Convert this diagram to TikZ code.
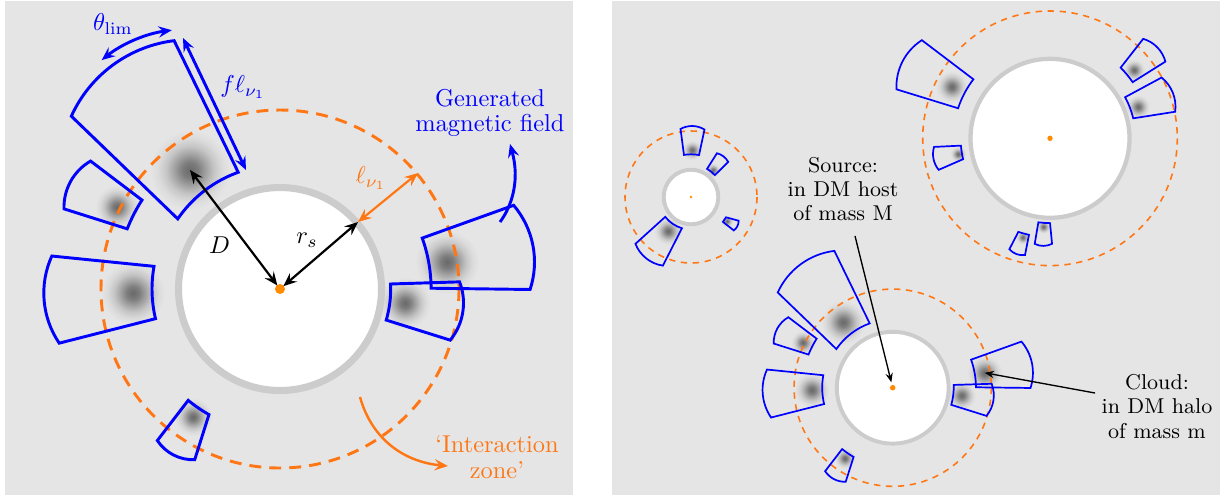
\documentclass[tikz,border=0pt]{standalone}
\usetikzlibrary{arrows.meta,calc}
\definecolor{panelbg}{RGB}{229,229,229}
\definecolor{ringgray}{RGB}{204,204,204}
\definecolor{zoneorange}{RGB}{255,119,20}
\definecolor{dotorange}{RGB}{255,140,0}
\definecolor{blA}{RGB}{105,105,105}
\definecolor{blB}{RGB}{125,125,125}
\definecolor{blC}{RGB}{163,163,163}
\definecolor{blD}{RGB}{198,198,198}
\definecolor{blE}{RGB}{219,219,219}
\pgfdeclareradialshading{blobshade}{\pgfpoint{0bp}{0bp}}{color(0bp)=(blA); color(5bp)=(blB); color(10bp)=(blC); color(15bp)=(blD); color(20bp)=(blE); color(25bp)=(panelbg); color(50bp)=(panelbg)}
% cloud region: style, inner angle 1, inner angle 2, inner radius (about the host centre = origin),
% cloud x, cloud y, outer angle 1, outer angle 2, outer radius (about the cloud)
\newcommand\cloudwedge[9]{\draw[#1] (#2:#4) arc[start angle=#2,end angle=#3,radius=#4] -- ($(#5,#6)+(#8:#9)$) arc[start angle=#8,end angle=#7,radius=#9] -- cycle;}
\newcommand\cloudblob[3]{\shade[shading=blobshade] (#1,#2) circle[radius=#3];}
\newcommand\leftclouds[1]{%
  \cloudwedge{#1}{-145.55}{-109.7}{124}{-90}{-119}{-155.6}{-97}{130.3}
  \cloudwedge{#1}{-158.5}{-147.2}{164.2}{-163}{-82}{178}{240.1}{53}
  \cloudwedge{#1}{166.6}{190.2}{128}{-147}{4}{145.8}{204.5}{89.2}
  \cloudwedge{#1}{119.5}{129.5}{144.3}{-87}{128}{87.7}{146.6}{42.7}
  \cloudwedge{#1}{-19.7}{-0.3}{151.1}{167}{-27}{-40.4}{18.3}{87.5}
  \cloudwedge{#1}{-2.6}{16.3}{110.7}{125}{14}{-21.2}{39.4}{58.5}}
\newcommand\leftblobs{%
  \cloudblob{-90}{-119}{40}
  \cloudblob{-163}{-82}{22}
  \cloudblob{-147}{4}{32}
  \cloudblob{-87}{128}{19}
  \cloudblob{167}{-27}{32}
  \cloudblob{125}{14}{26}}
\tikzset{
  bigtip/.tip={Stealth[length=5.5pt,width=4.6pt,inset=2pt]},
  smalltip/.tip={Stealth[length=3.8pt,width=3pt,inset=1.3pt]},
  ringstyle/.style={draw=ringgray,fill=white},
  zonestyle/.style={draw=zoneorange},
  lefttext/.style={font=\fontsize{10}{10.45}\selectfont,align=center,inner sep=0pt},
  righttext/.style={font=\fontsize{8.8}{9.9}\selectfont,align=center,inner sep=0pt},
  measarrow/.style={bigtip-bigtip,line width=0.9pt},
  thinarrow/.style={-smalltip,line width=0.55pt,black},
  bigwedge/.style={blue,line width=1.2pt},
  smallwedge/.style={blue,line width=0.7pt},
}
\begin{document}
\begin{tikzpicture}[x=0.41pt,y=-0.41pt]
\useasboundingbox (0,0) rectangle (1228,500);
% ---------------- left panel ----------------
\fill[panelbg] (5,1) rectangle (573,495);
\begin{scope}[shift={(280,289)}]
  \leftblobs
  \draw[zonestyle,line width=1.2pt,dash pattern=on 4.9pt off 3.3pt] (0,0) circle[radius=179];
  \draw[ringstyle,line width=2.9pt] (0,0) circle[radius=101.5];
  \leftclouds{bigwedge}
  \fill[dotorange] (0,0) circle[radius=5];
\end{scope}
\coordinate (srcL) at (280,289);
\coordinate (cloudL) at (190,170);
\coordinate (rsL) at (358,222);
\coordinate (zoneL) at (418,173);
\draw[measarrow,shorten <=1.8pt] (srcL) -- (cloudL);
\draw[measarrow,shorten <=1.8pt] (srcL) -- (rsL);
\draw[measarrow,zoneorange] (rsL) -- (zoneL);
\node (Dlbl) at (219.5,245) {$D$};
\node (rslbl) at (307,240) {$r_s$};
\node[text=zoneorange] (elllbl) at (371,178) {$\ell_{\nu_1}$};
% theta_lim and f l arrows
\coordinate (thA) at ($(cloudL)+(-128.8:141)$);
\draw[blue,line width=1.2pt,bigtip-bigtip] (thA) arc[start angle=-128.8,end angle=-97.4,radius=141];
\node[text=blue] (thlbl) at (113,24) {$\theta_{\mathrm{lim}}$};
\coordinate (fA) at (183,38);
\coordinate (fB) at (246,170);
\draw[blue,line width=1.2pt,bigtip-bigtip] (fA) -- (fB);
\node[text=blue] (flbl) at (243,87) {$f\ell_{\nu_1}$};
% generated field
\coordinate (gfA) at (500,222);
\coordinate (gfB) at (510,144);
\draw[blue,line width=1.2pt,-bigtip] (gfA) .. controls (512,206) and (520,180) .. (gfB);
\node[lefttext,text=blue] (gflbl) at (490,113) {Generated\\magnetic field};
% interaction zone
\coordinate (izA) at (360,397);
\coordinate (izB) at (448,466);
\draw[zoneorange,line width=1pt,-bigtip] (izA) .. controls (372,440) and (405,462) .. (izB);
\node[lefttext,text=zoneorange] (izlbl) at (497,457) {`Interaction\\zone'};
% ---------------- right panel ----------------
\fill[panelbg] (612,1) rectangle (1220,495);
% host 1 (small)
\begin{scope}[shift={(691,197)}]
  \cloudblob{1}{-47}{10}
  \cloudblob{22}{-27}{7}
  \cloudblob{36}{24}{6}
  \cloudblob{-23}{34}{14}
  \draw[zonestyle,line width=0.65pt,dash pattern=on 2.6pt off 2.3pt] (0,0) circle[radius=66];
  \draw[ringstyle,line width=1.6pt] (0,0) circle[radius=27.3];
  \cloudwedge{smallwedge}{-99.5}{-79.2}{42.7}{1}{-47}{-118.6}{-58.6}{24}
  \cloudwedge{smallwedge}{-60.3}{-42.5}{32.4}{22}{-27}{-76.8}{-28.1}{17.2}
  \cloudwedge{smallwedge}{30.1}{37.9}{40.5}{36}{24}{-1.5}{54.2}{11.6}
  \cloudwedge{smallwedge}{142.4}{106.2}{32.5}{-23}{34}{158.5}{98.4}{35}
  \fill[dotorange] (0,0) circle[radius=1.4];
\end{scope}
% host 2 (upper right)
\begin{scope}[shift={(1050,138.3)}]
  \cloudblob{-98.3}{-51.6}{16}
  \cloudblob{84}{-68.3}{11}
  \cloudblob{88}{-31.6}{12}
  \cloudblob{-92}{15.7}{8}
  \cloudblob{-6.7}{88.4}{7}
  \cloudblob{-27.3}{99}{7}
  \draw[zonestyle,line width=0.65pt,dash pattern=on 2.6pt off 2.3pt] (0,0) circle[radius=127.3];
  \draw[ringstyle,line width=1.75pt] (0,0) circle[radius=79.5];
  \cloudwedge{smallwedge}{-161.9}{-142.4}{96.7}{-98.3}{-51.6}{177.3}{237.3}{55.3}
  \cloudwedge{smallwedge}{-45}{-34.2}{99.9}{84}{-68.3}{-73.6}{-15}{32.5}
  \cloudwedge{smallwedge}{-28.7}{-13.5}{85.6}{88}{-31.6}{-51.1}{7.7}{37.5}
  \cloudwedge{smallwedge}{175.3}{166.5}{89.4}{-92}{15.7}{196.5}{140.7}{25}
  \cloudwedge{smallwedge}{97.9}{90}{84.8}{-6.7}{88.4}{116.6}{62.9}{19.2}
  \cloudwedge{smallwedge}{108.7}{102.3}{98.8}{-27.3}{99}{138.2}{82.6}{17.9}
  \fill[dotorange] (0,0) circle[radius=2.7];
\end{scope}
% host 3 (bottom, scaled copy of left panel)
\begin{scope}[shift={(892.7,387.7)},scale=0.551]
  \leftblobs
  \draw[zonestyle,line width=0.65pt,dash pattern=on 2.6pt off 2.3pt] (0,0) circle[radius=179];
  \draw[ringstyle,line width=1.6pt] (0,0) circle[radius=101.5];
  \leftclouds{smallwedge}
  \fill[dotorange] (0,0) circle[radius=5];
\end{scope}
\node[righttext] (srctxt) at (843,189) {Source:\\in DM host\\of mass M};
\node[righttext] (cldtxt) at (1157,406.5) {Cloud:\\in DM halo\\of mass m};
\coordinate (srcS) at (855,236);
\coordinate (hostC) at (892.7,387.7);
\coordinate (cldS) at (1095,393);
\coordinate (cldC) at (984.7,372.8);
\draw[thinarrow,shorten >=2.3pt] (srcS) -- (hostC);
\draw[thinarrow] (cldS) -- (cldC);
\end{tikzpicture}
\end{document}
